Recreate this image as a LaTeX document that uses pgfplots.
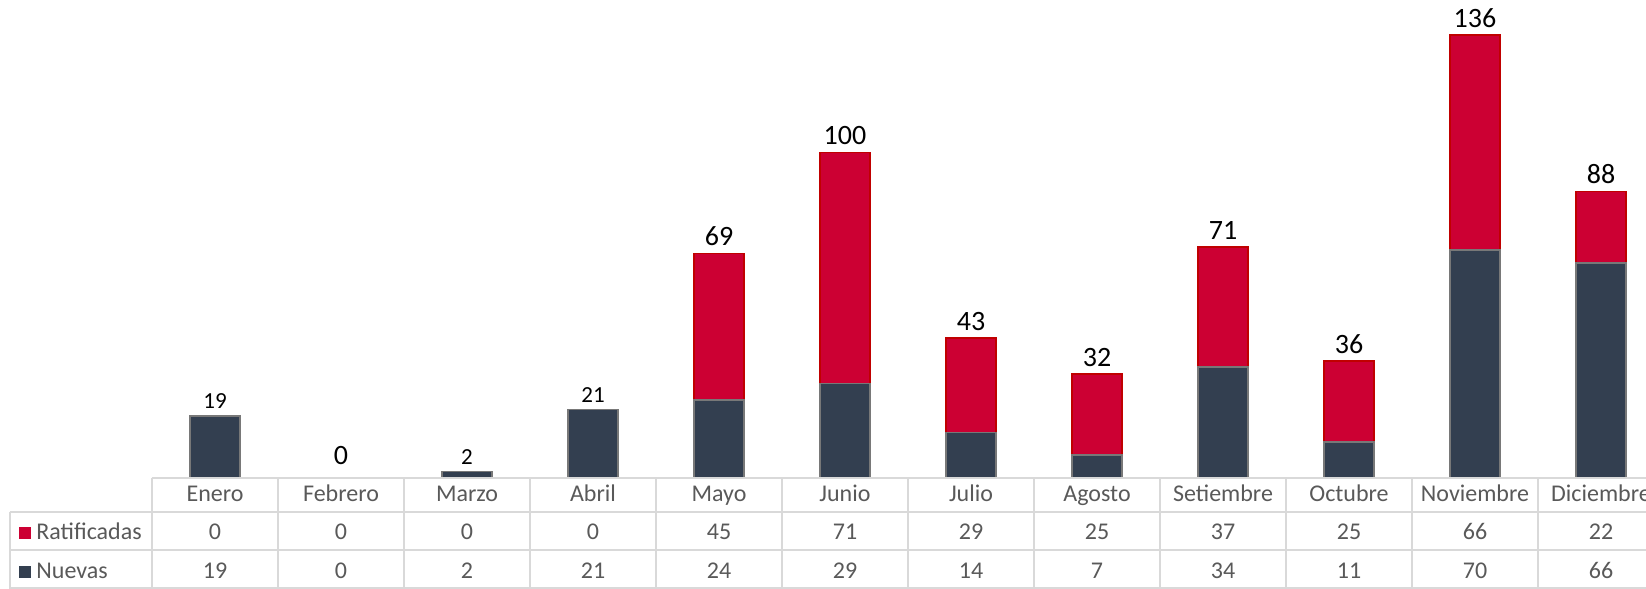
\documentclass[border=0pt]{standalone}
\usepackage{pgfplots}
\pgfplotsset{compat=1.18}
\usepackage{fontspec}
\setmainfont{Carlito}
\definecolor{rojo}{RGB}{204,0,51}
\definecolor{rojoborde}{RGB}{192,0,0}
\definecolor{navy}{RGB}{51,63,80}
\definecolor{bordegris}{RGB}{120,120,120}
\definecolor{gridc}{RGB}{217,217,217}
\definecolor{txt}{RGB}{89,89,89}
\begin{document}
\begin{tikzpicture}
\useasboundingbox (-76pt,-55.5pt) rectangle (747pt,239pt);
\clip (-76pt,-55.5pt) rectangle (747pt,239pt);
\pgfplotsset{base/.style={at={(0pt,0pt)}, anchor=south west, scale only axis,
  width=756pt, height=239pt, xmin=-0.5, xmax=11.5, ymin=0, ymax=146.8,
  axis lines=none, /pgf/number format/assume math mode=true}}
% bars: red = total (Nuevas + Ratificadas), navy = Nuevas drawn over it
\begin{axis}[base, ybar, bar width=25pt, bar shift=0pt]
\addplot[fill=rojo, draw=rojoborde, line width=0.8pt] coordinates
 {(4,69) (5,100) (6,43) (7,32) (8,71) (9,36) (10,136) (11,88)};
\addplot[fill=navy, draw=bordegris, line width=0.8pt] coordinates
 {(0,19) (2,2) (3,21) (4,24) (5,29) (6,14) (7,7) (8,34) (9,11) (10,70) (11,66)};
\end{axis}
% total labels
\begin{axis}[base, clip=false, nodes near coords,
  every node near coord/.append style={font=\fontsize{14}{16}\selectfont, text=black, inner ysep=3.5pt}]
\addplot[draw=none] coordinates
 {(4,69) (5,100) (6,43) (7,32) (8,71) (9,36) (10,136) (11,88)};
\addplot[draw=none, every node near coord/.append style={font=\fontsize{11.5}{13}\selectfont}] coordinates
 {(0,19) (2,2) (3,21)};
\addplot[draw=none, every node near coord/.append style={yshift=3pt}] coordinates {(1,0)};
\end{axis}
% data table
\begin{scope}[gridc, line width=1pt]
\draw (0pt,0pt) -- (760pt,0pt);
\foreach \yy in {-17,-36,-55} \draw (-71pt,\yy pt) -- (760pt,\yy pt);
\draw (-71pt,-17pt) -- (-71pt,-56pt);
\foreach \k in {0,...,12} \draw (63*\k pt,0pt) -- (63*\k pt,-56pt);
\end{scope}
\begin{scope}[font=\fontsize{12}{14}\selectfont, text=txt, every node/.style={anchor=base}]
\foreach \m [count=\i from 0] in {Enero,Febrero,Marzo,Abril,Mayo,Junio,Julio,Agosto,Setiembre,Octubre,Noviembre,Diciembre}
  \node at (31.5pt+63*\i pt,-12pt) {\m};
\foreach \v [count=\i from 0] in {0,0,0,0,45,71,29,25,37,25,66,22}
  \node at (31.5pt+63*\i pt,-30.8pt) {\v};
\foreach \v [count=\i from 0] in {19,0,2,21,24,29,14,7,34,11,70,66}
  \node at (31.5pt+63*\i pt,-50.3pt) {\v};
\fill[rojo] (-66.5pt,-30.5pt) rectangle (-60.5pt,-24.5pt);
\fill[navy] (-66.5pt,-50pt) rectangle (-60.5pt,-44pt);
\node[anchor=base west, inner xsep=0pt] at (-58pt,-30.8pt) {Ratificadas};
\node[anchor=base west, inner xsep=0pt] at (-58pt,-50.3pt) {Nuevas};
\end{scope}
\end{tikzpicture}
\end{document}
